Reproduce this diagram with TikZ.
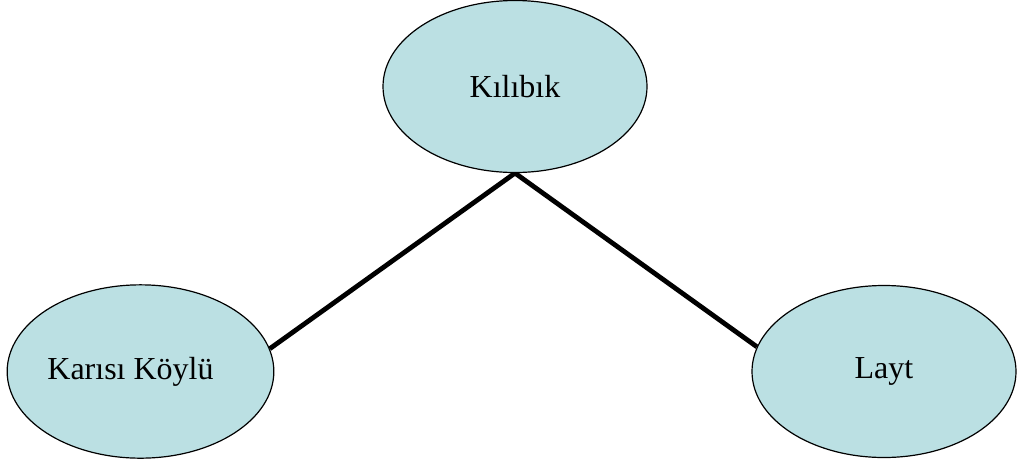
\documentclass[tikz,border=0pt]{standalone}
\usepackage{fontspec}
\setmainfont{Liberation Serif}
\usetikzlibrary{shapes.geometric,backgrounds}
\definecolor{ellfill}{RGB}{187,224,227}
\begin{document}
\begin{tikzpicture}[x=0.75pt,y=-0.75pt,
  ell/.style={ellipse,draw=black,line width=0.9pt,fill=ellfill,inner sep=0pt,
    minimum width=198pt,minimum height=129pt,font=\fontsize{24pt}{28pt}\selectfont},
  link/.style={line width=3.6pt,line cap=butt}]
\useasboundingbox (0,0) rectangle (1017,461);
\node[ell] (T) at (515,86.5) {Kılıbık};
\node[ell,minimum width=200pt,minimum height=130pt] (L) at (140.5,371.5) {Karısı Köylü\hspace*{15pt}};
\node[ell] (R) at (884,371.5) {Layt};
\begin{scope}[on background layer]
\draw[link] (T.south) -- (L.10.6);
\draw[link] (T.south) -- (R.169.7);
\end{scope}
\end{tikzpicture}
\end{document}
